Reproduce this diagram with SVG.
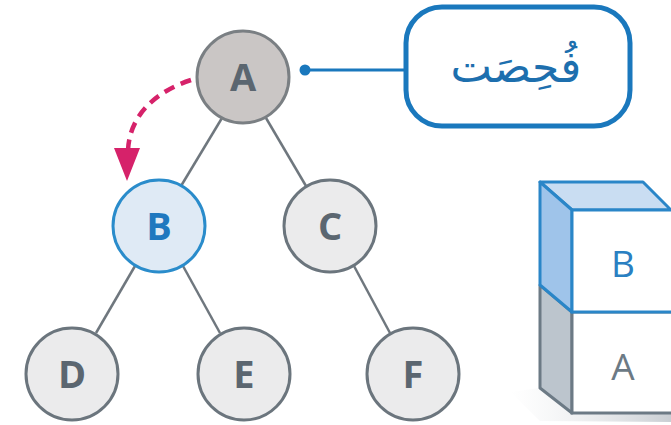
<svg xmlns="http://www.w3.org/2000/svg" width="671" height="425" viewBox="0 0 671 425">
<defs>
<style>
.edge{stroke:#6f777e;stroke-width:2.5;fill:none}
.node{fill:#ebebec;stroke:#6b757d;stroke-width:3}
.lbl{font-family:"Open Sans","DejaVu Sans",sans-serif;font-weight:bold;font-size:38px;fill:#5b6670;text-anchor:middle}
.stk{font-family:"Open Sans","DejaVu Sans",sans-serif;font-size:37px;text-anchor:middle}
</style>
<linearGradient id="sh" x1="0" y1="0" x2="1" y2="0">
<stop offset="0" stop-color="#e6e8ea" stop-opacity="0"/>
<stop offset="1" stop-color="#c9ced3"/>
</linearGradient>
</defs>
<rect width="671" height="425" fill="#ffffff"/>
<g id="connectors">
<line class="edge" x1="222" y1="118" x2="181" y2="186"/>
<line class="edge" x1="266" y1="118" x2="306" y2="186"/>
<line class="edge" x1="135" y1="266" x2="96" y2="333"/>
<line class="edge" x1="183" y1="266" x2="220" y2="333"/>
<line class="edge" x1="354" y1="266" x2="390" y2="333"/>
<line x1="305" y1="70" x2="405" y2="70" stroke="#1a78bd" stroke-width="3"/>
<circle cx="305" cy="70" r="5.5" fill="#1a78bd"/>
<path d="M191,80 C160,90 130,112 128,150" fill="none" stroke="#d6226a" stroke-width="4.5" stroke-dasharray="11,7"/>
<polygon points="114,148 140,148 127,181" fill="#d6226a"/>
</g>
<g id="A">
<circle cx="243" cy="77" r="46" fill="#cac6c5" stroke="#7a7f83" stroke-width="3"/>
<text class="lbl" x="243" y="91">A</text>
</g>
<g id="B">
<circle cx="159" cy="226" r="46" fill="#dfeaf5" stroke="#2a8ccb" stroke-width="3"/>
<text class="lbl" x="159" y="240" style="fill:#1f78bf">B</text>
</g>
<g id="C">
<circle class="node" cx="330" cy="226" r="46"/>
<text class="lbl" x="330" y="240">C</text>
</g>
<g id="D">
<circle class="node" cx="72" cy="374" r="46"/>
<text class="lbl" x="72" y="388">D</text>
</g>
<g id="E">
<circle class="node" cx="244" cy="374" r="46"/>
<text class="lbl" x="244" y="388">E</text>
</g>
<g id="F">
<circle class="node" cx="413" cy="374" r="46"/>
<text class="lbl" x="413" y="388">F</text>
</g>
<g id="label">
<rect x="406" y="7" width="224" height="119" rx="36" ry="36" fill="#ffffff" stroke="#1a78bd" stroke-width="5"/>
<text x="516" y="82" font-family="'DejaVu Sans','Noto Sans',sans-serif" font-size="44" fill="#1d6fae" text-anchor="middle" direction="rtl">فُحِصَت</text>
</g>
<g id="stack">
<polygon points="510,392 540,388 572,413 671,413 671,422 540,421" fill="url(#sh)"/>
<polygon points="540,285 572,312 572,413 540,388" fill="#bcc5cd" stroke="#6c7a85" stroke-width="3" stroke-linejoin="round"/>
<rect x="572" y="312" width="102" height="101" fill="#ffffff" stroke="#6c7a85" stroke-width="3"/>
<polygon points="540,182 643,182 671,210 572,210" fill="#c9ddf2" stroke="#2a86c8" stroke-width="3" stroke-linejoin="round"/>
<polygon points="540,182 572,210 572,312 540,285" fill="#9fc4ea" stroke="#2a86c8" stroke-width="3" stroke-linejoin="round"/>
<rect x="572" y="210" width="102" height="102" fill="#ffffff" stroke="#2a86c8" stroke-width="3"/>
<text class="stk" x="623" y="277" fill="#2a80c2">B</text>
<text class="stk" x="623" y="380" fill="#6c7a85">A</text>
</g>
</svg>
